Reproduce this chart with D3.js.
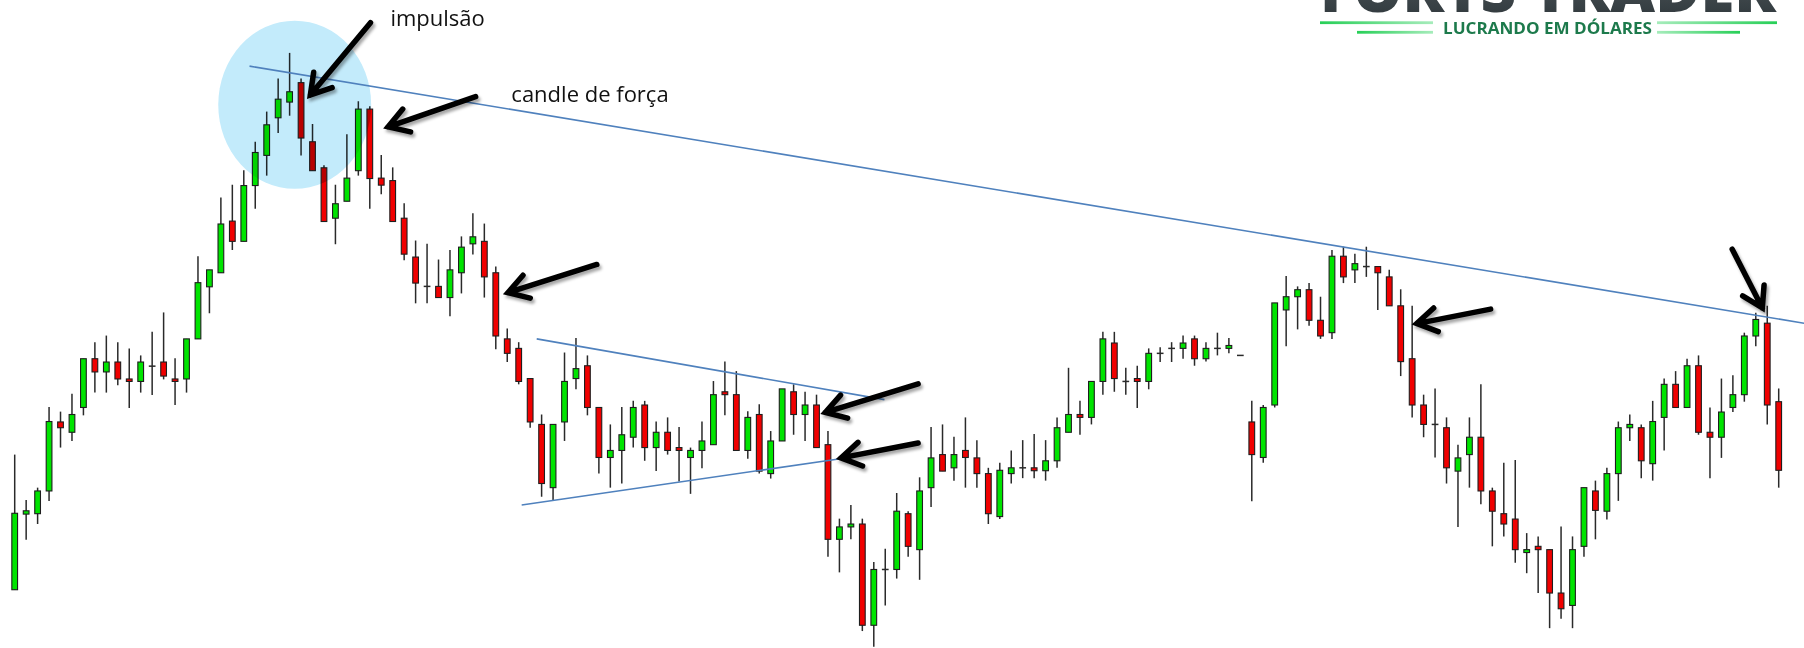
<!DOCTYPE html>
<html>
<head>
<meta charset="utf-8">
<script src="https://cdn.jsdelivr.net/npm/d3@7/dist/d3.min.js"></script>
<style>
html, body { margin: 0; padding: 0; background: #fff; }
svg { display: block; }
</style>
</head>
<body>
<svg id="chart" width="1804" height="648"></svg>
<script>
// candle prices (arbitrary points)
var opens = [173,356,357,412,579,554,614,732,700,724, 683,677,714,724,683,683,780,906,940,1065,
	1016,1151,1224,1315,1353,1400,1257,1194,1072,1113, 1187,1336,1169,1163,1072,978,907,907,880,940,
	1010,1016,940,780,757,684,573,420,579,684, 715,614,493,510,542,620,517,554,517,493,
	510,524,652,645,510,597,454,533,652,597, 620,524,295,325,332,87,222,222,357,270,
	420,500,468,510,492,454,350,454,468,468, 461,485,554,597,590,677,770,677,684,677,
	745,757,757,780,732,757,757,740,579,493, 620,850,882,899,825,795,980,947,955,955,
	930,860,732,620,573,565,460,500,542,412, 357,344,263,278,270,165,135,278,412,363,
	454,565,565,478,590,670,614,715,554,542, 614,645,787,818,628];
var highs = [500,390,420,615,604,647,732,772,788,772, 757,740,797,844,733,780,980,947,1122,1153,
	1188,1257,1330,1410,1472,1410,1300,1200,1153,1275, 1355,1343,1225,1195,1108,1018,1010,972,995,1028,
	1084,1059,955,805,772,684,597,573,747,782, 740,614,573,615,630,630,580,590,567,517,
	580,678,725,702,605,622,557,659,670,652, 645,557,345,378,345,240,272,407,363,445,
	567,573,543,590,535,468,480,510,535,550, 535,590,710,630,677,797,797,710,715,757,
	760,772,788,788,772,795,782,740,630,620, 867,932,907,915,882,995,1003,986,1003,955,
	947,900,860,645,660,590,524,590,670,420, 480,487,310,302,270,326,302,420,437,468,
	580,597,573,630,684,702,732,740,614,684, 692,795,843,860,660];
var lows = [173,294,332,388,517,533,595,650,650,668, 613,650,644,682,620,650,780,842,940,995,
	1016,1095,1175,1278,1320,1224,1187,1064,1009,1113, 1175,1095,1130,1064,970,866,866,880,835,890,
	984,880,755,724,670,565,398,390,533,658, 595,454,420,430,517,485,460,500,435,405,
	467,524,595,510,490,454,442,533,548,533, 517,253,215,295,73,35,135,200,253,197,
	373,460,437,420,420,332,344,430,443,443, 437,468,554,548,573,645,652,645,613,658,
	724,724,732,715,725,740,745,740,387,480, 614,762,803,812,780,780,915,915,930,850,
	860,690,590,542,493,430,325,420,380,278, 302,238,213,165,80,103,80,253,295,343,
	388,533,443,437,510,614,614,548,443,492, 603,628,762,573,420];
var closes = [358,364,412,580,565,597,732,700,724,683, 677,724,714,690,677,780,916,947,1058,1016,
	1151,1231,1298,1360,1378,1266,1187,1064,1107,1169, 1336,1168,1152,1064,985,915,907,880,947,1002,
	1027,930,787,745,677,579,430,573,677,708, 614,493,510,548,614,517,554,510,510,510,
	533,645,645,510,590,460,533,659,597,620, 517,295,325,332,87,222,222,363,278,412,
	492,460,500,493,454,357,462,468,468,461, 485,565,597,590,677,780,684,677,677,745,
	745,757,770,732,757,757,764,740,500,614, 867,882,899,825,787,980,930,962,955,940,
	860,725,620,573,573,468,492,542,412,363, 332,270,270,270,165,127,270,420,365,454,
	565,573,485,580,670,614,715,554,542,603, 645,787,827,620,462];

// annotations, in candle index / price
var trendLines = [
	{ from: [20.5, 1440], to: [156.4, 817] },
	{ from: [45.57, 780], to: [75.93, 633] },
	{ from: [44.26, 378], to: [72.08, 490] }
];
var arrows = [
	{ tail: [31.06, 1545], tip: [25.81, 1370] },
	{ tail: [40.24, 1366], tip: [32.6, 1293] },
	{ tail: [50.82, 960], tip: [43.06, 892] },
	{ tail: [78.87, 671], tip: [70.77, 602] },
	{ tail: [78.87, 528], tip: [72.14, 492] },
	{ tail: [128.85, 852], tip: [122.4, 817] },
	{ tail: [149.94, 997], tip: [152.57, 855] }
];
var labels = [
	{ text: "impulsão", at: [32.8, 1537] },
	{ text: "candle de força", at: [43.36, 1354] }
];
var highlight = { idx: [17.77, 31.12], price: [1143, 1550] };

var WIDTH = 1804,
	HEIGHT = 648,
	UP = "#00e400",
	DOWN = "#f00000",
	EDGE = "#1e1e1e",
	BLUE = "#4f81bd";

var svg = d3.select("#chart");

var x = d3.scaleLinear().domain([0, opens.length - 1]).range([14.7, 1778.7]),
	y = d3.scaleLinear().domain([32, 1600]).range([HEIGHT, 0]),
	step = x(1) - x(0),
	bodyWidth = step * 0.5;

var candles = d3.range(opens.length).map(function (i) {
	return { i: i, o: opens[i], h: highs[i], l: lows[i], c: closes[i] };
});

var defs = svg.append("defs");
defs.append("filter")
		.attr("id", "shadow")
		.attr("x", "-30%").attr("y", "-30%")
		.attr("width", "160%").attr("height", "160%")
	.append("feDropShadow")
		.attr("dx", 2).attr("dy", 3)
		.attr("stdDeviation", 1.6)
		.attr("flood-color", "#000")
		.attr("flood-opacity", 0.35);

function lineGradient(id, from, to) {
	var g = defs.append("linearGradient").attr("id", id);
	g.append("stop").attr("offset", "0%").attr("stop-color", from);
	g.append("stop").attr("offset", "100%").attr("stop-color", to);
}
lineGradient("gl", "#27cf57", "#a6ecbb");
lineGradient("gr", "#a6ecbb", "#27cf57");
var gg = defs.append("linearGradient").attr("id", "gtext").attr("x1", 0).attr("y1", 0).attr("x2", 0).attr("y2", 1);
gg.append("stop").attr("offset", "0%").attr("stop-color", "#5b6569");
gg.append("stop").attr("offset", "100%").attr("stop-color", "#2a3236");

// candles
var group = svg.append("g").attr("class", "candles");

group.selectAll(".wick")
	.data(candles.filter(function (d) { return d.h != d.l; }))
	.enter()
	.append("line")
		.attr("class", "wick")
		.attr("x1", function (d) { return x(d.i); })
		.attr("x2", function (d) { return x(d.i); })
		.attr("y1", function (d) { return y(d.h); })
		.attr("y2", function (d) { return y(d.l); })
		.attr("stroke", "#2a2a2a")
		.attr("stroke-width", 1.5);

group.selectAll(".body")
	.data(candles.filter(function (d) { return d.o != d.c; }))
	.enter()
	.append("rect")
		.attr("class", "body")
		.attr("x", function (d) { return x(d.i) - bodyWidth / 2; })
		.attr("y", function (d) { return y(Math.max(d.o, d.c)); })
		.attr("width", bodyWidth)
		.attr("height", function (d) { return Math.max(1, Math.abs(y(d.o) - y(d.c))); })
		.attr("fill", function (d) { return d.c > d.o ? UP : DOWN; })
		.attr("stroke", EDGE)
		.attr("stroke-width", 1.1);

group.selectAll(".doji")
	.data(candles.filter(function (d) { return d.o == d.c; }))
	.enter()
	.append("line")
		.attr("class", "doji")
		.attr("x1", function (d) { return x(d.i) - bodyWidth / 2 - 0.5; })
		.attr("x2", function (d) { return x(d.i) + bodyWidth / 2 + 0.5; })
		.attr("y1", function (d) { return y(d.o); })
		.attr("y2", function (d) { return y(d.o); })
		.attr("stroke", "#2a2a2a")
		.attr("stroke-width", 1.5);

// highlight circle, multiplied over the candles
svg.append("ellipse")
	.attr("cx", x((highlight.idx[0] + highlight.idx[1]) / 2))
	.attr("cy", y((highlight.price[0] + highlight.price[1]) / 2))
	.attr("rx", (x(highlight.idx[1]) - x(highlight.idx[0])) / 2)
	.attr("ry", (y(highlight.price[0]) - y(highlight.price[1])) / 2)
	.attr("fill", "#c3ebfb")
	.style("mix-blend-mode", "multiply");

// trend lines
svg.selectAll(".trend")
	.data(trendLines)
	.enter()
	.append("line")
		.attr("class", "trend")
		.attr("x1", function (d) { return x(d.from[0]); })
		.attr("y1", function (d) { return y(d.from[1]); })
		.attr("x2", function (d) { return x(d.to[0]); })
		.attr("y2", function (d) { return y(d.to[1]); })
		.attr("stroke", BLUE)
		.attr("stroke-width", 1.6);

// arrows
function arrowPath(d) {
	var x1 = x(d.tail[0]), y1 = y(d.tail[1]),
		x2 = x(d.tip[0]), y2 = y(d.tip[1]),
		a = Math.atan2(y1 - y2, x1 - x2),
		HEAD = 23, SPREAD = 0.55;
	return "M" + x1 + " " + y1 + "L" + x2 + " " + y2
		+ "M" + (x2 + HEAD * Math.cos(a + SPREAD)) + " " + (y2 + HEAD * Math.sin(a + SPREAD))
		+ "L" + x2 + " " + y2
		+ "L" + (x2 + HEAD * Math.cos(a - SPREAD)) + " " + (y2 + HEAD * Math.sin(a - SPREAD));
}

svg.selectAll(".arrow")
	.data(arrows)
	.enter()
	.append("path")
		.attr("class", "arrow")
		.attr("d", arrowPath)
		.attr("fill", "none")
		.attr("stroke", "#000")
		.attr("stroke-width", 5.5)
		.attr("stroke-linecap", "round")
		.attr("stroke-linejoin", "miter")
		.attr("filter", "url(#shadow)");

svg.selectAll(".label")
	.data(labels)
	.enter()
	.append("text")
		.attr("class", "label")
		.attr("x", function (d) { return x(d.at[0]); })
		.attr("y", function (d) { return y(d.at[1]); })
		.attr("font-family", "'Open Sans', sans-serif")
		.attr("font-size", 22)
		.attr("fill", "#111")
		.text(function (d) { return d.text; });

// logo, cut by the top edge
var logo = svg.append("g").attr("class", "logo");
logo.append("text")
	.attr("x", 1320)
	.attr("y", 11.5)
	.attr("textLength", 456)
	.attr("lengthAdjust", "spacingAndGlyphs")
	.attr("font-family", "'Open Sans', sans-serif")
	.attr("font-weight", 800)
	.attr("font-size", 60)
	.attr("fill", "url(#gtext)")
	.text("FORTS TRADER");
logo.append("text")
	.attr("x", 1443)
	.attr("y", 33.5)
	.attr("textLength", 209)
	.attr("lengthAdjust", "spacingAndGlyphs")
	.attr("font-family", "'Open Sans', sans-serif")
	.attr("font-weight", 700)
	.attr("font-size", 16)
	.attr("fill", "#1d7a4c")
	.text("LUCRANDO EM DÓLARES");
[[1320, 1433, 22.7, "gl"], [1357, 1433, 32.3, "gl"], [1657, 1777, 22.7, "gr"], [1657, 1740, 32.3, "gr"]].forEach(function (b) {
	logo.append("rect")
		.attr("x", b[0]).attr("y", b[2] - 1.4)
		.attr("width", b[1] - b[0]).attr("height", 2.8)
		.attr("fill", "url(#" + b[3] + ")");
});
</script>
</body>
</html>
